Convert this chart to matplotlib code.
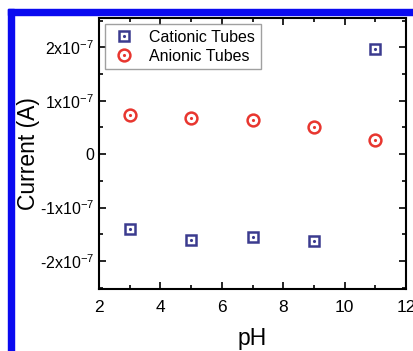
import matplotlib.pyplot as plt
from matplotlib.patches import Rectangle
import numpy as np

plt.rcParams['font.family'] = ['Liberation Sans', 'DejaVu Sans']
plt.rcParams['mathtext.fontset'] = 'custom'
plt.rcParams['mathtext.rm'] = 'Liberation Sans'

# data
ph = [3, 5, 7, 9, 11]
cationic = [-1.40e-7, -1.60e-7, -1.55e-7, -1.63e-7, 1.97e-7]
cationic_err = [0.04e-7, 0.02e-7, 0.08e-7, 0.02e-7, 0.02e-7]
anionic = [0.73e-7, 0.67e-7, 0.64e-7, 0.51e-7, 0.27e-7]
anionic_err = [0.03e-7, 0.02e-7, 0.05e-7, 0.04e-7, 0.05e-7]

ytick_vals = [-2e-7, -1e-7, 0, 1e-7, 2e-7]
ytick_labels = ['-2x10$^{-7}$', '-1x10$^{-7}$', '0', '1x10$^{-7}$', '2x10$^{-7}$']
xtick_vals = [2, 4, 6, 8, 10, 12]

blue = '#3b3b8f'
red = '#e8362f'

fig = plt.figure(figsize=(4.14, 3.51), dpi=100)
ax = fig.add_axes([0.239, 0.177, 0.742, 0.772])

ax.errorbar(ph, cationic, yerr=cationic_err, fmt='none', ecolor=blue,
            elinewidth=1.2, capsize=3, zorder=2)
sq, = ax.plot(ph, cationic, 's', ms=6.5, mfc='white', mec=blue, mew=1.8,
              zorder=3)
sqd, = ax.plot(ph, cationic, '.', color=blue, ms=2.5, zorder=4)
ax.errorbar(ph, anionic, yerr=anionic_err, fmt='none', ecolor=red,
            elinewidth=1.2, capsize=3, zorder=2)
ci, = ax.plot(ph, anionic, 'o', ms=8.5, mfc='white', mec=red, mew=1.8,
              zorder=3)
cid, = ax.plot(ph, anionic, '.', color=red, ms=2.5, zorder=4)

ax.set_xlim(2, 12)
ax.set_ylim(-2.52e-7, 2.55e-7)
ax.set_xticks(xtick_vals)
ax.set_xticks(np.arange(3, 12, 2), minor=True)
ax.set_yticks(ytick_vals)
ax.set_yticklabels(ytick_labels)
ax.set_yticks(np.arange(-2.5e-7, 2.6e-7, 1e-7), minor=True)

ax.tick_params(which='both', direction='in', top=True, right=True,
               width=1.2, color='black')
ax.tick_params(axis='x', labelsize=12.5, pad=8)
ax.tick_params(axis='y', labelsize=11.5)
ax.tick_params(which='major', length=5)
ax.tick_params(which='minor', length=3)
for s in ax.spines.values():
    s.set_linewidth(1.5)

ax.set_xlabel('pH', fontsize=16.5, labelpad=9)
ax.set_ylabel('Current (A)', fontsize=16.5, labelpad=0)

leg = ax.legend([(sq, sqd), (ci, cid)], ['Cationic Tubes', 'Anionic Tubes'],
                loc='upper left', fontsize=11.5, frameon=True, fancybox=False,
                edgecolor='#888888', borderaxespad=0.4, handletextpad=0.8,
                borderpad=0.35, labelspacing=0.25, handlelength=1.6)
leg.get_frame().set_linewidth(1.0)

# blue frame around the figure
fig.patches.append(Rectangle((8 / 414, 0), 6 / 414, 1 - 9 / 351,
                             transform=fig.transFigure, color='#0a0af0', zorder=10))
fig.patches.append(Rectangle((8 / 414, 1 - 15 / 351), 1, 6 / 351,
                             transform=fig.transFigure, color='#0a0af0', zorder=10))

fig.savefig('out.png', dpi=100)
